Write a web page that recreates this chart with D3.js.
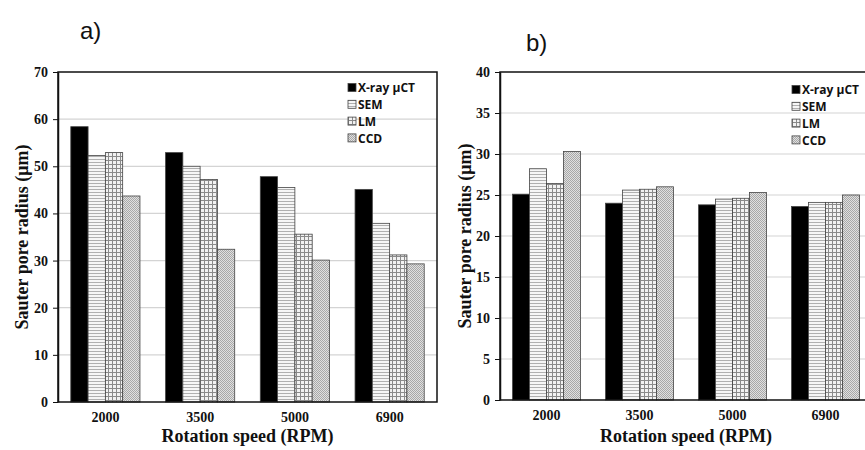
<!DOCTYPE html>
<html><head><meta charset="utf-8">
<script src="https://cdn.jsdelivr.net/npm/d3@7"></script>
<style>body{margin:0;background:#fff}svg{display:block}</style>
</head><body>
<svg id="c" width="865" height="450"></svg>
<script>
const categories = ["2000", "3500", "5000", "6900"];
const seriesNames = ["X-ray \u03bcCT", "SEM", "LM", "CCD"];
// Panel a)
const aXray = [58.4, 52.9, 47.8, 45.1];
const aSEM  = [52.3, 50.0, 45.5, 37.9];
const aLM   = [52.9, 47.2, 35.6, 31.2];
const aCCD  = [43.7, 32.4, 30.1, 29.3];
const aTicks = [0, 10, 20, 30, 40, 50, 60, 70];
// Panel b)
const bXray = [25.1, 24.0, 23.8, 23.6];
const bSEM  = [28.2, 25.6, 24.5, 24.1];
const bLM   = [26.4, 25.7, 24.6, 24.1];
const bCCD  = [30.3, 26.0, 25.3, 25.0];
const bTicks = [0, 5, 10, 15, 20, 25, 30, 35, 40];

const svg = d3.select("#c");
const defs = svg.append("defs");
// patterns
const pSEM = defs.append("pattern").attr("id","pSEM").attr("patternUnits","userSpaceOnUse").attr("width",4).attr("height",3);
pSEM.append("rect").attr("width",4).attr("height",3).attr("fill","#f6f6f6");
pSEM.append("line").attr("x1",0).attr("x2",4).attr("y1",0.5).attr("y2",0.5).attr("stroke","#b0b0b0").attr("stroke-width",1);
const pLM = defs.append("pattern").attr("id","pLM").attr("patternUnits","userSpaceOnUse").attr("width",4).attr("height",4);
pLM.append("rect").attr("width",4).attr("height",4).attr("fill","#f2f2f2");
pLM.append("line").attr("x1",0).attr("x2",4).attr("y1",0.5).attr("y2",0.5).attr("stroke","#8a8a8a").attr("stroke-width",1);
pLM.append("line").attr("y1",0).attr("y2",4).attr("x1",0.5).attr("x2",0.5).attr("stroke","#8a8a8a").attr("stroke-width",1);
const pCCD = defs.append("pattern").attr("id","pCCD").attr("patternUnits","userSpaceOnUse").attr("width",2).attr("height",2);
pCCD.append("rect").attr("width",2).attr("height",2).attr("fill","#e0e0e0");
pCCD.append("rect").attr("width",1).attr("height",1).attr("fill","#a8a8a8");
pCCD.append("rect").attr("x",1).attr("y",1).attr("width",1).attr("height",1).attr("fill","#a8a8a8");
const fills = ["#000", "url(#pSEM)", "url(#pLM)", "url(#pCCD)"];

const serif = "'Liberation Serif','Times New Roman',serif";
const sans = "'Open Sans','Liberation Sans',Arial,sans-serif";

function panel(opts) {
  const {x0, x1, y0, y1, max, ticks, series, label, labelX, labelY, legX, legY, titleX} = opts;
  const g = svg.append("g");
  const x = d3.scaleBand().domain(categories).range([x0, x1]).paddingInner(0.27).paddingOuter(0.135);
  const xs = d3.scaleBand().domain(seriesNames).range([0, x.bandwidth()]);
  const y = d3.scaleLinear().domain([0, max]).range([y1, y0]);
  // gridlines
  g.append("g").selectAll("line").data(ticks.filter(t => t > 0 && t < max)).join("line")
    .attr("x1", x0).attr("x2", x1).attr("y1", d => y(d)).attr("y2", d => y(d))
    .attr("stroke", "#d4d4d4").attr("stroke-width", 1.2);
  // bars
  seriesNames.forEach((s, si) => {
    g.append("g").selectAll("rect").data(series[si]).join("rect")
      .attr("x", (d, i) => x(categories[i]) + xs(s))
      .attr("y", d => y(d))
      .attr("width", xs.bandwidth())
      .attr("height", d => y(0) - y(d))
      .attr("fill", fills[si])
      .attr("stroke", "#444").attr("stroke-width", 0.8);
  });
  // frame
  g.append("rect").attr("x", x0).attr("y", y0).attr("width", x1 - x0).attr("height", y1 - y0)
    .attr("fill", "none").attr("stroke", "#111").attr("stroke-width", 1.5);
  // y axis
  const ya = g.append("g").attr("transform", `translate(${x0},0)`)
    .call(d3.axisLeft(y).tickValues(ticks).tickSize(5).tickSizeOuter(0).tickPadding(5));
  ya.select(".domain").attr("stroke", "#111").attr("stroke-width", 1.5);
  ya.selectAll("line").attr("stroke", "#111");
  ya.selectAll("text").attr("font-family", serif).attr("font-weight", "bold").attr("font-size", 14).attr("fill", "#111");
  // x axis
  const xa = g.append("g").attr("transform", `translate(0,${y1})`)
    .call(d3.axisBottom(x).tickSize(0).tickPadding(10));
  xa.select(".domain").remove();
  xa.selectAll("text").attr("font-family", serif).attr("font-weight", "bold").attr("font-size", 14).attr("fill", "#111");
  // titles
  g.append("text").attr("x", (x0 + x1) / 2).attr("y", 442).attr("text-anchor", "middle")
    .attr("font-family", serif).attr("font-weight", "bold").attr("font-size", 18).attr("fill", "#111")
    .text("Rotation speed (RPM)");
  g.append("text").attr("transform", `translate(${titleX},${(y0 + y1) / 2}) rotate(-90)`)
    .attr("text-anchor", "middle").attr("dy", "0.35em")
    .attr("font-family", serif).attr("font-weight", "bold").attr("font-size", 18).attr("fill", "#111")
    .text("Sauter pore radius (\u03bcm)");
  // legend
  const lg = g.append("g").attr("transform", `translate(${legX},${legY})`);
  seriesNames.forEach((s, i) => {
    lg.append("rect").attr("x", 0).attr("y", i * 16.8 - 4.5).attr("width", 8).attr("height", 8)
      .attr("fill", fills[i]).attr("stroke", "#444").attr("stroke-width", 0.8);
    lg.append("text").attr("x", 10).attr("y", i * 16.8).attr("dy", "0.35em")
      .attr("font-family", sans).attr("font-weight", "bold").attr("font-size", 12).attr("fill", "#111")
      .text(s);
  });
  // panel label
  svg.append("text").attr("x", labelX).attr("y", labelY)
    .attr("font-family", "'Liberation Sans',Arial,sans-serif").attr("font-size", 24).attr("fill", "#111")
    .text(label + ")");
}

panel({x0: 58, x1: 437, y0: 72, y1: 402, max: 70, ticks: aTicks, series: [aXray, aSEM, aLM, aCCD],
  label: "a", labelX: 80, labelY: 39, legX: 348, legY: 88, titleX: 22});
panel({x0: 500, x1: 872, y0: 72, y1: 400, max: 40, ticks: bTicks, series: [bXray, bSEM, bLM, bCCD],
  label: "b", labelX: 526, labelY: 51, legX: 792, legY: 90, titleX: 465});
</script>
</body></html>
